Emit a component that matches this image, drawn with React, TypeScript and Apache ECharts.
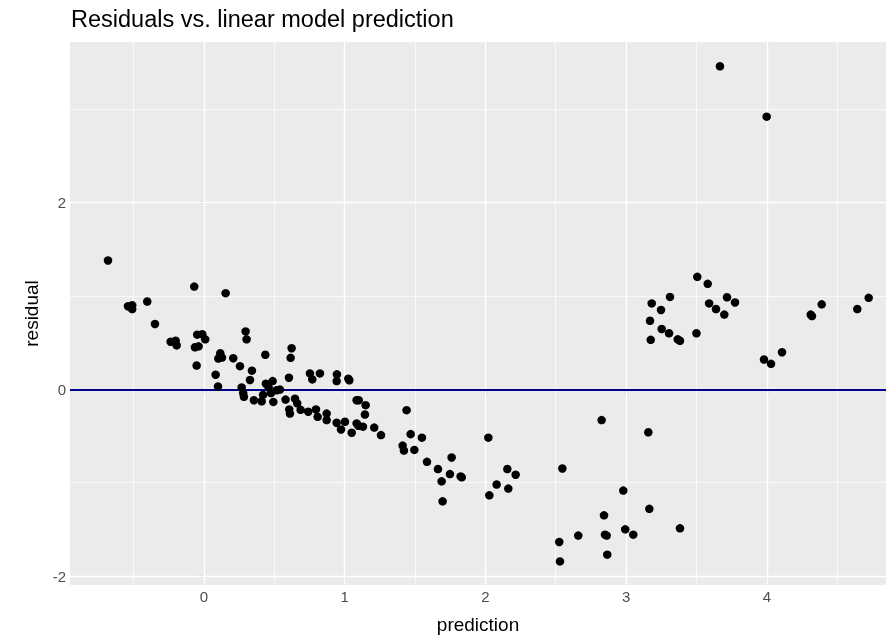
import React, { useEffect, useRef } from "react";
import * as echarts from "echarts";

const prediction = [
  -0.682, -0.069, 0.154, -0.54, -0.51, -0.51, -0.403, -0.348, -0.237, -0.201,
  -0.194, -0.048, -0.012, 0.009, -0.064, -0.038, -0.052, 0.296, 0.303, 0.116,
  0.102, 0.128, 0.208, 0.256, 0.436, 0.083, 0.341, 0.327, 0.1, 0.268,
  0.279, 0.284, 0.355, 0.41, 0.42, 0.44, 0.488, 0.46, 0.476, 0.493,
  0.516, 0.54, 0.623, 0.616, 0.604, 0.58, 0.647, 0.663, 0.606, 0.611,
  0.687, 0.741, 0.753, 0.77, 0.824, 0.796, 0.808, 0.872, 0.872, 0.945,
  0.943, 1.026, 1.033, 0.943, 1.002, 0.974, 1.05, 1.085, 1.1, 1.149,
  1.144, 1.085, 1.097, 1.13, 1.21, 1.258, 1.44, 1.469, 1.549, 1.412,
  1.421, 1.495, 1.585, 1.663, 1.76, 1.689, 1.748, 1.824, 1.832, 1.696,
  2.021, 2.08, 2.028, 2.156, 2.215, 2.163, 2.547, 2.826, 3.158, 2.98,
  2.843, 2.66, 2.525, 2.85, 2.862, 2.994, 3.051, 3.165, 2.866, 2.53,
  3.383, 3.506, 3.58, 3.312, 3.182, 3.248, 3.17, 3.253, 3.305, 3.175,
  3.367, 3.383, 3.5, 3.59, 3.639, 3.698, 3.717, 3.774, 3.667, 3.999,
  3.98, 4.03, 4.108, 4.312, 4.321, 4.39, 4.643, 4.724,
];

const residual = [
  1.38, 1.1, 1.03, 0.89, 0.9, 0.86, 0.94, 0.7, 0.51, 0.52,
  0.47, 0.585, 0.59, 0.535, 0.45, 0.46, 0.255, 0.62, 0.535, 0.386,
  0.33, 0.34, 0.333, 0.248, 0.37, 0.156, 0.2, 0.1, 0.03, 0.02,
  -0.04, -0.08, -0.117, -0.128, -0.06, 0.06, 0.088, 0.018, -0.04, -0.135,
  -0.01, -0.003, 0.44, 0.337, 0.124, -0.11, -0.1, -0.15, -0.216, -0.26,
  -0.22, -0.24, 0.17, 0.106, 0.17, -0.216, -0.295, -0.26, -0.33, 0.16,
  0.088, 0.114, 0.096, -0.358, -0.348, -0.43, -0.465, -0.117, -0.117, -0.17,
  -0.27, -0.365, -0.39, -0.4, -0.41, -0.49, -0.223, -0.48, -0.518, -0.603,
  -0.656, -0.649, -0.777, -0.854, -0.73, -0.986, -0.908, -0.933, -0.943, -1.2,
  -0.518, -1.02, -1.136, -0.854, -0.915, -1.063, -0.848, -0.33, -0.46, -1.085,
  -1.35, -1.567, -1.635, -1.557, -1.567, -1.5, -1.557, -1.28, -1.771, -1.843,
  -1.489, 1.205, 1.13, 0.99, 0.92, 0.85, 0.734, 0.646, 0.6, 0.53,
  0.535, 0.52, 0.6, 0.92, 0.86, 0.8, 0.986, 0.93, 3.46, 2.92,
  0.319, 0.273, 0.397, 0.8, 0.784, 0.91, 0.86, 0.98,
];

const xTicks = [0, 1, 2, 3, 4];
const xMinor = [-0.5, 0.5, 1.5, 2.5, 3.5, 4.5];
const yTicks = [-2, 0, 2];
const yMinor = [-1, 1, 3];
const hLine = 0;

const FONT = "'Liberation Sans', Arial, Helvetica, sans-serif";

export default function App() {
  const ref = useRef<HTMLDivElement>(null);

  useEffect(() => {
    if (!ref.current) return;
    const chart = echarts.init(ref.current, undefined, { renderer: "svg" });
    const points = prediction.map((p, i) => [p, residual[i]]);

    const gridLines = (vals: number[], key: "xAxis" | "yAxis", w: number) =>
      vals.map((v) => ({
        [key]: v,
        lineStyle: { color: "#ffffff", width: w, type: "solid" },
      }));

    chart.setOption({
      animation: false,
      textStyle: { fontFamily: FONT },
      title: {
        text: "Residuals vs. linear model prediction",
        left: 66,
        top: 2,
        textStyle: {
          fontFamily: FONT,
          fontSize: 23.5,
          fontWeight: "normal",
          color: "#000000",
        },
      },
      grid: {
        left: 70,
        right: 0,
        top: 42,
        bottom: 52,
        show: true,
        backgroundColor: "#EBEBEB",
        borderWidth: 0,
        containLabel: false,
        outerBoundsMode: "none",
      },
      xAxis: {
        type: "value",
        min: -0.952,
        max: 4.847,
        name: "prediction",
        nameLocation: "middle",
        nameGap: 30,
        nameTextStyle: { fontFamily: FONT, fontSize: 19, color: "#000000" },
        axisLine: { show: false },
        splitLine: { show: false },
        axisTick: {
          show: true,
          customValues: xTicks,
          length: 5,
          lineStyle: { color: "#333333", width: 1.2 },
        },
        axisLabel: {
          customValues: xTicks,
          fontFamily: FONT,
          fontSize: 15,
          color: "#4D4D4D",
          margin: 4,
        },
      },
      yAxis: {
        type: "value",
        min: -2.096,
        max: 3.72,
        name: "residual",
        nameLocation: "middle",
        nameRotate: 90,
        nameGap: 29,
        nameTextStyle: { fontFamily: FONT, fontSize: 19, color: "#000000" },
        axisLine: { show: false },
        splitLine: { show: false },
        axisTick: {
          show: true,
          customValues: yTicks,
          length: 5,
          lineStyle: { color: "#333333", width: 1.2 },
        },
        axisLabel: {
          customValues: yTicks,
          fontFamily: FONT,
          fontSize: 15,
          color: "#4D4D4D",
          margin: 4,
        },
      },
      series: [
        {
          type: "line",
          data: [],
          z: 1,
          silent: true,
          markLine: {
            z: 1,
            silent: true,
            symbol: ["none", "none"],
            label: { show: false },
            animation: false,
            data: [
              ...gridLines(xMinor, "xAxis", 0.7),
              ...gridLines(yMinor, "yAxis", 0.7),
              ...gridLines(xTicks, "xAxis", 1.4),
              ...gridLines(yTicks, "yAxis", 1.4),
            ],
          },
        },
        {
          type: "line",
          data: [],
          z: 2,
          silent: true,
          markLine: {
            z: 2,
            silent: true,
            symbol: ["none", "none"],
            label: { show: false },
            animation: false,
            data: [
              {
                yAxis: hLine,
                lineStyle: { color: "#00008B", width: 2, type: "solid" },
              },
            ],
          },
        },
        {
          type: "scatter",
          z: 10,
          data: points,
          symbolSize: 8.5,
          itemStyle: { color: "#000000", opacity: 1 },
        },
      ],
    });

    return () => chart.dispose();
  }, []);

  return (
    <div
      ref={ref}
      style={{ position: "fixed", left: 0, top: 0, width: 886, height: 637 }}
    />
  );
}
